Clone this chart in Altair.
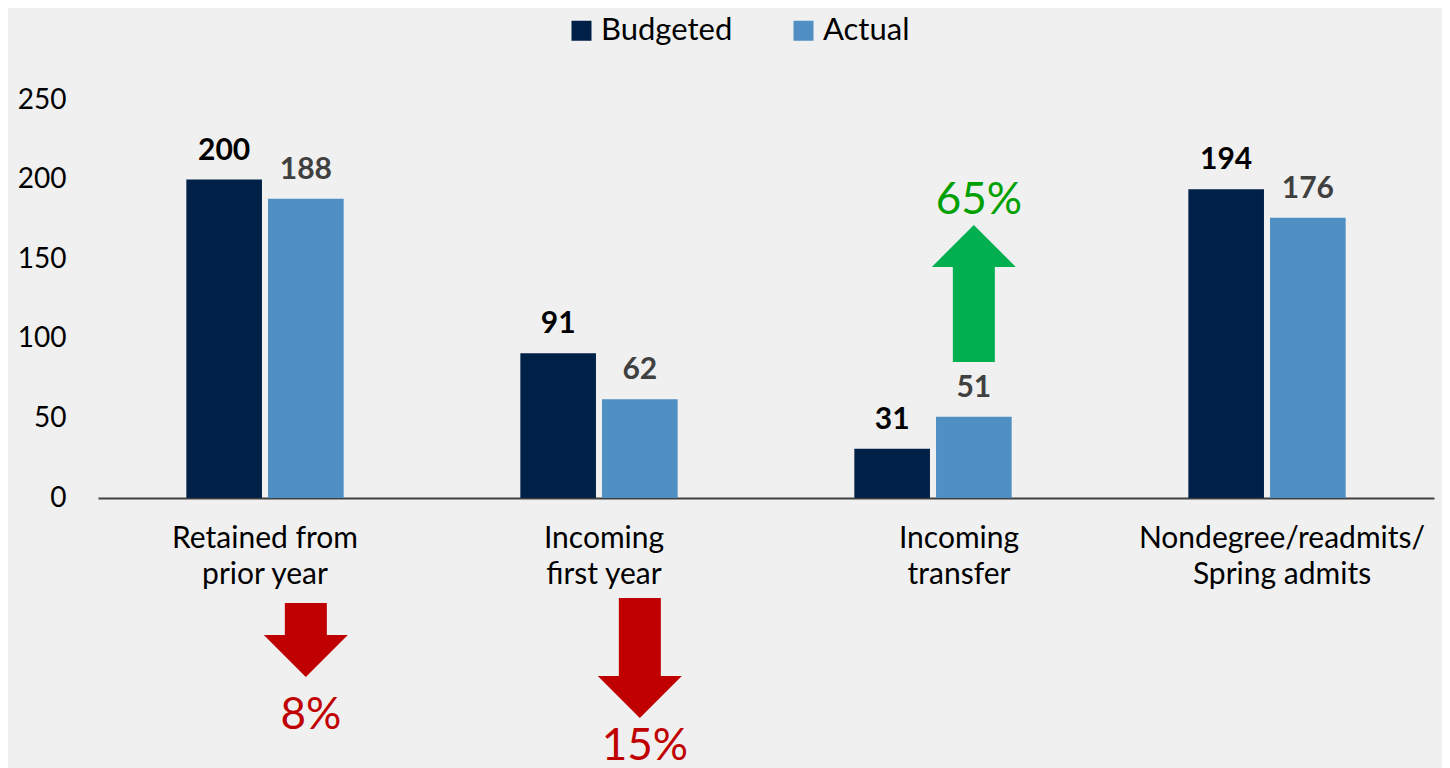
import altair as alt
import pandas as pd

# ---------------- data ----------------
categories = ["Retained from\nprior year", "Incoming\nfirst year",
              "Incoming\ntransfer", "Nondegree/readmits/\nSpring admits"]
series = ["Budgeted", "Actual"]
budgeted = [200, 91, 31, 194]
actual = [188, 62, 51, 176]
y_ticks = [0, 50, 100, 150, 200, 250]

change_labels = ["8%", "15%", "65%"]
change_dirs = ["down", "down", "up"]
change_cats = categories[:3]

# ---------------- annotation placement (y-scale units) ----------------
arrow_center = [-89.2, -100.5, 128.5]
arrow_length_px = [74, 120, 137]
pct_pos = [-145.1, -164.5, 178.4]

FONT = "Lato"
NAVY = "#002147"
BLUE = "#4f8fc3"
RED = "#c00000"
GREEN = "#00b050"
GREEN_TXT = "#00a000"
BG = "#f0f0f0"

rows = []
for i, c in enumerate(categories):
    rows.append({"Category": c, "Series": "Budgeted", "Value": budgeted[i]})
    rows.append({"Category": c, "Series": "Actual", "Value": actual[i]})
df = pd.DataFrame(rows)

UNIT = 70.0  # custom symbol half-size in px (size = (2*UNIT)^2)


def arrow_path(length_px, direction):
    h = length_px / UNIT / 2
    hw, sw, hh = 42 / UNIT, 21 / UNIT, 42 / UNIT
    s = 1 if direction == "down" else -1
    top, tip, hb = -h * s, h * s, (h - hh) * s
    pts = [(-sw, top), (sw, top), (sw, hb), (hw, hb), (0, tip), (-hw, hb), (-sw, hb)]
    return "M" + " L".join(f"{x:.4f},{y:.4f}" for x, y in pts) + " Z"


arrows = pd.DataFrame({
    "Category": change_cats,
    "Series": ["Actual"] * 3,
    "pos": arrow_center,
    "dir": change_dirs,
    "path": [arrow_path(l, d) for l, d in zip(arrow_length_px, change_dirs)],
})
pcts = pd.DataFrame({
    "Category": change_cats,
    "Series": ["Actual"] * 3,
    "pos": pct_pos,
    "dir": change_dirs,
    "label": change_labels,
})

label_shift = {
    "condition": [
        {"test": "indexof(datum.value, 'first year') >= 0", "value": 5},
        {"test": "indexof(datum.value, 'transfer') >= 0", "value": 26},
        {"test": "indexof(datum.value, 'Spring') >= 0", "value": 15},
    ],
    "value": 0,
}

X = alt.X("Category:N", sort=categories,
          scale=alt.Scale(paddingInner=0.529, paddingOuter=0.2645),
          axis=alt.Axis(title=None, labelExpr="split(datum.label, '\\n')",
                        labelAngle=0, labelFont=FONT, labelFontSize=30,
                        labelColor="#000000", labelPadding=25, labelLineHeight=36,
                        labelLimit=500, labelOverlap=False, ticks=False, grid=False,
                        labelOffset=label_shift,
                        domainColor="#404040", domainWidth=2))
XO = alt.XOffset("Series:N", sort=series,
                 scale=alt.Scale(domain=series, paddingInner=0.074, paddingOuter=0))
YSCALE = alt.Scale(domain=[0, 250], nice=False, zero=True)
YAXIS = alt.Axis(title=None, values=y_ticks, labelFont=FONT, labelFontSize=28,
                 labelColor="#000000", labelPadding=32, domain=False,
                 ticks=False, grid=False)


def Y(field):
    return alt.Y(f"{field}:Q", scale=YSCALE, axis=YAXIS)


bars = alt.Chart(df).mark_bar().encode(
    x=X, xOffset=XO, y=Y("Value"),
    color=alt.Color("Series:N", sort=series,
                    scale=alt.Scale(domain=series, range=[NAVY, BLUE]),
                    legend=alt.Legend(orient="none", legendX=468, legendY=-85,
                                      direction="horizontal", title=None,
                                      symbolType="square", symbolSize=400,
                                      symbolStrokeWidth=0, labelFont=FONT,
                                      labelFontSize=31, labelColor="#000000",
                                      labelOffset=4, columnPadding=55)),
)

values = alt.Chart(df).mark_text(font=FONT, fontSize=30, fontWeight="bold",
                                 baseline="alphabetic", dy=-20).encode(
    x=X, xOffset=XO, y=Y("Value"),
    text=alt.Text("Value:Q"),
    color=alt.condition("datum.Series == 'Budgeted'", alt.value("#000000"),
                        alt.value("#404040")),
)

arrow_marks = alt.Chart(arrows).mark_point(filled=True, opacity=1,
                                           strokeWidth=0, size=(2 * UNIT) ** 2).encode(
    x=X, xOffset=XO, y=Y("pos"),
    shape=alt.Shape("path:N", scale=None),
    color=alt.condition("datum.dir == 'up'", alt.value(GREEN), alt.value(RED)),
)

pct_marks = alt.Chart(pcts).mark_text(font=FONT, fontSize=44, baseline="alphabetic",
                                      dx=5).encode(
    x=X, xOffset=XO, y=Y("pos"),
    text="label:N",
    color=alt.condition("datum.dir == 'up'", alt.value(GREEN_TXT), alt.value(RED)),
)

chart = alt.layer(bars, values, arrow_marks, pct_marks).properties(
    width=1336, height=398,
    autosize=alt.AutoSizeParams(type="none"),
    padding={"left": 90, "top": 92, "right": 8, "bottom": 270},
).configure(background=BG).configure_view(stroke=None)

chart.save("out.html", embed_options={"renderer": "svg", "actions": False})
